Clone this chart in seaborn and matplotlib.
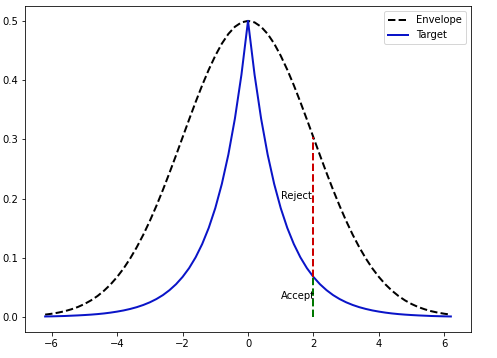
import numpy as np
import matplotlib
matplotlib.use("Agg")
import matplotlib.pyplot as plt
import seaborn as sns

x_vals = [-6.2, -6.0, -5.8, -5.6, -5.4, -5.2, -5.0, -4.8, -4.6, -4.4, -4.2, -4.0,
          -3.8, -3.6, -3.4, -3.2, -3.0, -2.8, -2.6, -2.4, -2.2, -2.0, -1.8, -1.6,
          -1.4, -1.2, -1.0, -0.8, -0.6, -0.4, -0.2, 0.0, 0.2, 0.4, 0.6, 0.8, 1.0,
          1.2, 1.4, 1.6, 1.8, 2.0, 2.2, 2.4, 2.6, 2.8, 3.0, 3.2, 3.4, 3.6, 3.8,
          4.0, 4.2, 4.4, 4.6, 4.8, 5.0, 5.2, 5.4, 5.6, 5.8, 6.0, 6.2]

envelope = [0.0041, 0.0056, 0.0075, 0.0099, 0.0131, 0.0170, 0.0220, 0.0281, 0.0355,
            0.0445, 0.0551, 0.0677, 0.0822, 0.0990, 0.1179, 0.1390, 0.1623, 0.1877,
            0.2148, 0.2434, 0.2730, 0.3033, 0.3335, 0.3631, 0.3914, 0.4176, 0.4412,
            0.4616, 0.4780, 0.4901, 0.4975, 0.5000, 0.4975, 0.4901, 0.4780, 0.4616,
            0.4412, 0.4176, 0.3914, 0.3631, 0.3335, 0.3033, 0.2730, 0.2434, 0.2148,
            0.1877, 0.1623, 0.1390, 0.1179, 0.0990, 0.0822, 0.0677, 0.0551, 0.0445,
            0.0355, 0.0281, 0.0220, 0.0170, 0.0131, 0.0099, 0.0075, 0.0056, 0.0041]

target = [0.0010, 0.0012, 0.0015, 0.0018, 0.0023, 0.0028, 0.0034, 0.0041, 0.0050,
          0.0061, 0.0075, 0.0092, 0.0112, 0.0137, 0.0167, 0.0204, 0.0249, 0.0304,
          0.0371, 0.0454, 0.0554, 0.0677, 0.0826, 0.1009, 0.1233, 0.1506, 0.1839,
          0.2247, 0.2744, 0.3352, 0.4094, 0.5000, 0.4094, 0.3352, 0.2744, 0.2247,
          0.1839, 0.1506, 0.1233, 0.1009, 0.0826, 0.0677, 0.0554, 0.0454, 0.0371,
          0.0304, 0.0249, 0.0204, 0.0167, 0.0137, 0.0112, 0.0092, 0.0075, 0.0061,
          0.0050, 0.0041, 0.0034, 0.0028, 0.0023, 0.0018, 0.0015, 0.0012, 0.0010]

sample_x = 2.0
sample_target = 0.0677
sample_envelope = 0.3033
labels = ["Reject", "Accept"]
label_pos = [(1.0, 0.2), (1.0, 0.03)]

fig = plt.figure(figsize=(497 / 72, 358 / 72), dpi=72)
ax = fig.add_axes([0.05, 0.073, 0.898, 0.91])

sns.lineplot(x=x_vals, y=envelope, ax=ax, color="k", linestyle="--", lw=2,
             label="Envelope")
sns.lineplot(x=x_vals, y=target, ax=ax, color="#0a14c8", lw=2, label="Target")

ax.plot([sample_x, sample_x], [sample_target, sample_envelope], color="#cc0000",
        linestyle="--", lw=2)
ax.plot([sample_x, sample_x], [0, sample_target], color="#007700",
        linestyle="--", lw=2)

for lab, (tx, ty) in zip(labels, label_pos):
    ax.text(tx, ty, lab, fontsize=10)

ax.set_xticks([-6, -4, -2, 0, 2, 4, 6])
ax.set_yticks([0.0, 0.1, 0.2, 0.3, 0.4, 0.5])
ax.legend(loc="upper right", fontsize=10)

fig.savefig("out.png", dpi=72)
